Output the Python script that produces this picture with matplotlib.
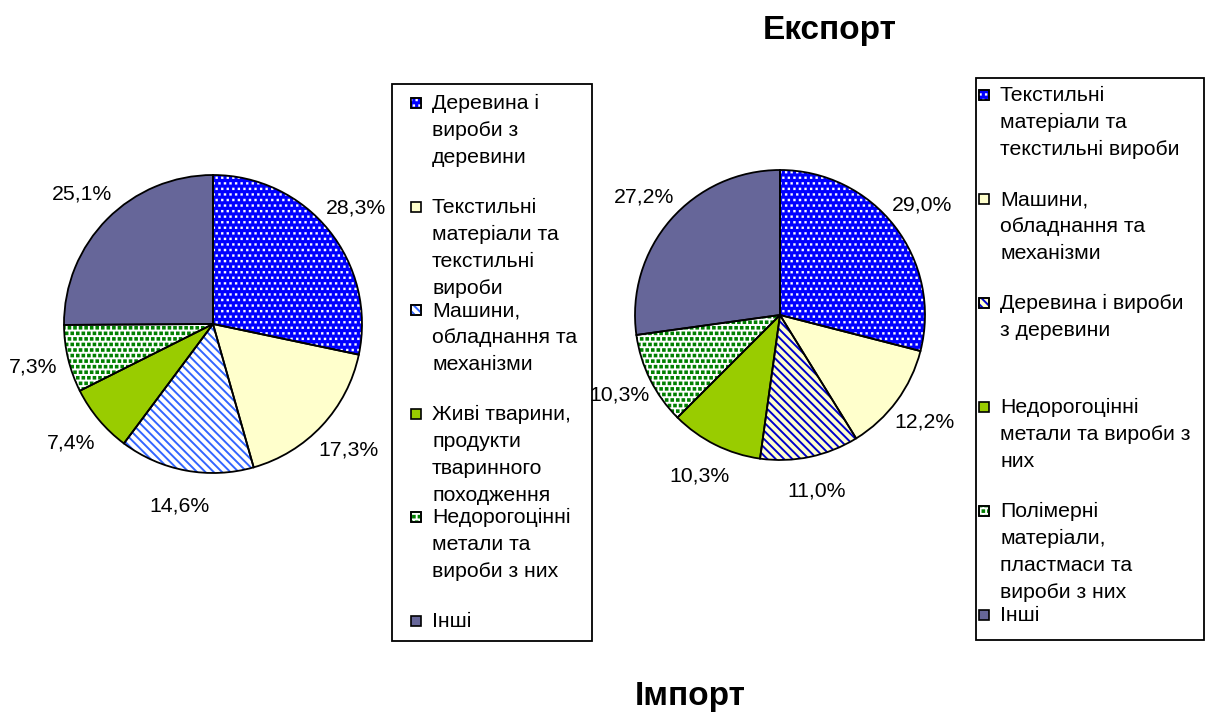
import matplotlib
matplotlib.use("Agg")
import numpy as np
import matplotlib.pyplot as plt
from matplotlib import hatch as mhatch
from matplotlib.path import Path
from matplotlib.patches import Wedge, Rectangle

plt.rcParams['font.family'] = ['Liberation Sans', 'DejaVu Sans']
plt.rcParams['hatch.linewidth'] = 1.4


# square dot hatch (replaces the small filled circles used for '.')
class SquareDots(mhatch.Shapes):
    size = 0.2
    filled = True

    def __init__(self, hatch, density):
        self.num_rows = hatch.count('.') * density
        self.shape_vertices = np.array([[-1, -1], [1, -1], [1, 1], [-1, 1],
                                        [-1, -1]], dtype=float)
        self.shape_codes = np.array([Path.MOVETO, Path.LINETO, Path.LINETO,
                                     Path.LINETO, Path.CLOSEPOLY],
                                    dtype=Path.code_type)
        super().__init__(hatch, density)


mhatch._hatch_types = [SquareDots if t is mhatch.SmallFilledCircles else t
                       for t in mhatch._hatch_types]

# ---------------- data ----------------
import_categories = [
    "Деревина і\nвироби з\nдеревини",
    "Текстильні\nматеріали та\nтекстильні\nвироби",
    "Машини,\nобладнання та\nмеханізми",
    "Живі тварини,\nпродукти\nтваринного\nпоходження",
    "Недорогоцінні\nметали та\nвироби з них",
    "Інші",
]
import_values = [28.3, 17.3, 14.6, 7.4, 7.3, 25.1]

export_categories = [
    "Текстильні\nматеріали та\nтекстильні вироби",
    "Машини,\nобладнання та\nмеханізми",
    "Деревина і вироби\nз деревини",
    "Недорогоцінні\nметали та вироби з\nних",
    "Полімерні\nматеріали,\nпластмаси та\nвироби з них",
    "Інші",
]
export_values = [29.0, 12.2, 11.0, 10.3, 10.3, 27.2]

title_export = "Експорт"
title_import = "Імпорт"

# ---------------- styles ----------------
# (facecolor, hatch, hatchcolor, hatch linewidth)
import_styles = [
    ('#0000FF', '...', 'white', 0.1),
    ('#FFFFCC', None, None, None),
    ('white', '\\\\\\\\', '#3366FF', 1.4),
    ('#99CC00', None, None, None),
    ('white', '...', '#008000', 1.0),
    ('#666699', None, None, None),
]
export_styles = [
    ('#0000FF', '...', 'white', 0.1),
    ('#FFFFCC', None, None, None),
    ('#FFFFCC', '\\\\\\\\', '#0000CC', 1.4),
    ('#99CC00', None, None, None),
    ('white', '...', '#008000', 1.0),
    ('#666699', None, None, None),
]

W, H = 1205, 712
fig = plt.figure(figsize=(W / 100, H / 100), dpi=100)
fig.patch.set_facecolor('white')

# overlay axes in pixel coordinates for legends and titles
ov = fig.add_axes([0, 0, 1, 1])
ov.set_xlim(0, W)
ov.set_ylim(H, 0)
ov.axis('off')

FS = 15.3


def fmt(v):
    return f"{v:.1f}%".replace('.', ',')


def hatched(patch_cls, args, s, **kw):
    plt.rcParams['hatch.linewidth'] = s[3]
    p = patch_cls(*args, facecolor='none', edgecolor=s[2], hatch=s[1],
                  linewidth=0, **kw)
    try:
        p.set_hatch_linewidth(s[3])
    except AttributeError:
        pass
    return p


def draw_pie(cx, cy, r, values, styles):
    ax = fig.add_axes([(cx - r) / W, (H - cy - r) / H, 2 * r / W, 2 * r / H])
    wedges, texts = ax.pie(
        values, startangle=90, counterclock=False,
        colors=[s[0] for s in styles],
        labels=[fmt(v) for v in values], labeldistance=1.24,
        wedgeprops=dict(edgecolor='none', linewidth=0),
        textprops=dict(fontsize=FS, color='black'))
    for t in texts:
        t.set_ha('center')
        t.set_va('center')
    for w in wedges:
        w.set_clip_on(False)
    for w, s in zip(wedges, styles):
        if s[1]:
            p = hatched(Wedge, (w.center, w.r, w.theta1, w.theta2), s, zorder=2)
            ax.add_patch(p)
            p.set_clip_on(False)
    for w in wedges:
        o = Wedge(w.center, w.r, w.theta1, w.theta2, fill=False,
                  edgecolor='black', linewidth=1.3, zorder=3)
        ax.add_patch(o)
        o.set_clip_on(False)
    ax.set_xlim(-1, 1)
    ax.set_ylim(-1, 1)
    ax.set_aspect('equal')
    ax.axis('off')
    return ax


def draw_legend(x0, y0, x1, y1, categories, styles, mx, tx, ystart, ystep):
    ov.add_patch(Rectangle((x0, y0), x1 - x0, y1 - y0, facecolor='white',
                           edgecolor='black', linewidth=1.3, zorder=1))
    for i, (cat, s) in enumerate(zip(categories, styles)):
        yc = ystart + i * ystep
        sz = 10
        ov.add_patch(Rectangle((mx, yc - sz / 2), sz, sz, facecolor=s[0],
                               edgecolor='black', linewidth=1.2, zorder=2))
        if s[1]:
            ov.add_patch(hatched(Rectangle, ((mx, yc - sz / 2), sz, sz),
                                 s, zorder=3))
            ov.add_patch(Rectangle((mx, yc - sz / 2), sz, sz, fill=False,
                                   edgecolor='black', linewidth=1.2, zorder=4))
        ov.text(tx, yc - 9, cat, fontsize=FS, ha='left', va='top',
                linespacing=1.53, zorder=5, clip_on=True)


draw_legend(392, 84, 592, 641, import_categories, import_styles,
            411, 432, 103, 103.6)
draw_legend(976, 78, 1204, 640, export_categories, export_styles,
            979, 1000, 95, 104)

draw_pie(213, 324, 149, import_values, import_styles)
draw_pie(780, 315, 145, export_values, export_styles)

ov.text(830, 31, title_export, fontsize=24, fontweight='bold',
        ha='center', va='center')
ov.text(690, 696, title_import, fontsize=24, fontweight='bold',
        ha='center', va='center')

fig.savefig('out.png', dpi=100, facecolor='white')
